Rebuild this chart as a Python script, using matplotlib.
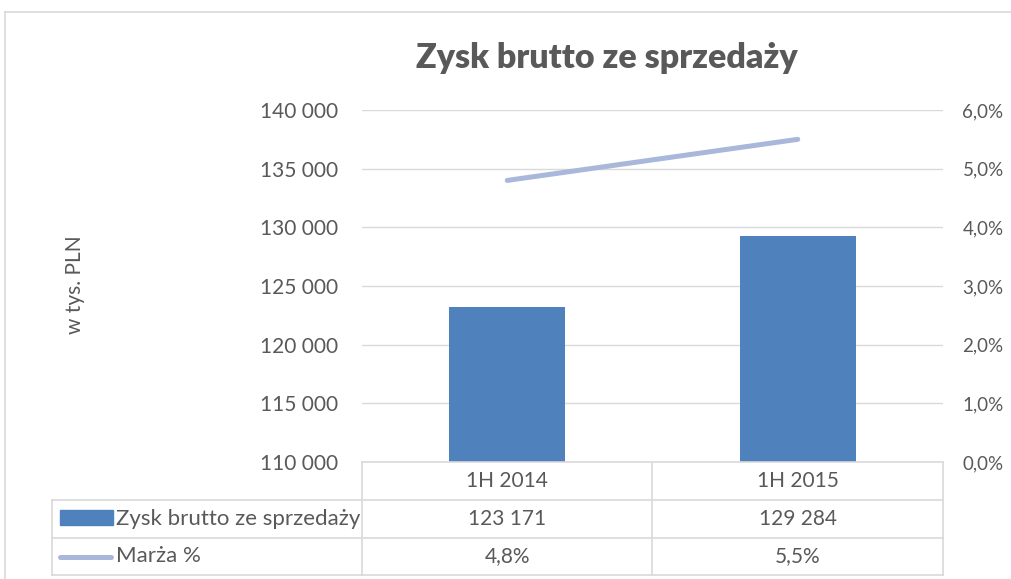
import matplotlib
matplotlib.use("Agg")
import matplotlib.pyplot as plt
from matplotlib.patches import Rectangle
from matplotlib.lines import Line2D
from matplotlib.ticker import FuncFormatter

categories = ["1H 2014", "1H 2015"]
profit = [123171, 129284]
margin = [4.8, 5.5]
title = "Zysk brutto ze sprzedaży"
series_names = ["Zysk brutto ze sprzedaży", "Marża %"]
ylabel = "w tys. PLN"

BAR_C = "#4F81BD"
LINE_C = "#A8B7DA"
TXT = "#595959"
GRID = "#D9D9D9"
FS = 15

plt.rcParams['font.family'] = ['Lato', 'DejaVu Sans']

W, H = 1012, 579
fig = plt.figure(figsize=(W / 100, H / 100), dpi=100)

def fx(x):
    return x / W

def fy(y):
    return 1 - y / H

L, R, T, B = 362, 943, 110, 462
ax = fig.add_axes([fx(L), fy(B), fx(R) - fx(L), fy(T) - fy(B)])
x = list(range(len(categories)))
ax.bar(x, profit, width=0.4, color=BAR_C, zorder=3)
ax.set_xlim(-0.5, len(categories) - 0.5)
ax.set_ylim(110000, 140000)
ax.set_yticks(range(110000, 140001, 5000))
ax.yaxis.set_major_formatter(FuncFormatter(lambda v, p: f"{int(v):,}".replace(",", " ")))
ax.grid(axis="y", color=GRID, lw=1, zorder=0)
ax.set_xticks([])
for s in ax.spines.values():
    s.set_visible(False)
ax.tick_params(axis="y", length=0, pad=17, labelsize=FS, labelcolor=TXT)

ax2 = ax.twinx()
ax2.plot(x, [m / 100 for m in margin], color=LINE_C, lw=3.6, solid_capstyle="round", zorder=4)
ax2.set_ylim(0, 0.06)
ax2.set_yticks([i / 100 for i in range(0, 7)])
ax2.yaxis.set_major_formatter(FuncFormatter(lambda v, p: f"{v*100:.1f}%".replace(".", ",")))
for s in ax2.spines.values():
    s.set_visible(False)
ax2.tick_params(axis="y", length=0, pad=14, labelsize=13.5, labelcolor=TXT)

# title and y label
fig.text(fx(607), fy(58), title, ha="center", va="center", fontsize=24.5, fontweight="heavy", color=TXT)
fig.text(fx(75), fy(285), ylabel, ha="center", va="center", rotation=90, fontsize=FS, color=TXT)

# outer chart border (cropped)
fig.add_artist(Line2D([fx(5), fx(5)], [fy(12), 0], color=GRID, lw=1.2))
fig.add_artist(Line2D([fx(5), 1], [fy(12), fy(12)], color=GRID, lw=1.2))

# data table
TL = 52
rows_y = [462, 500, 538, 575]
ncat = len(categories)
colw = (R - L) / ncat
col_x = [L + i * colw for i in range(ncat + 1)]

def hline(y, x0, x1):
    fig.add_artist(Line2D([fx(x0), fx(x1)], [fy(y), fy(y)], color=GRID, lw=1.2))

def vline(x0, y0, y1):
    fig.add_artist(Line2D([fx(x0), fx(x0)], [fy(y0), fy(y1)], color=GRID, lw=1.2))

hline(rows_y[0], L, R)
for y in rows_y[1:]:
    hline(y, TL, R)
for xc in col_x:
    vline(xc, rows_y[0], rows_y[-1])
vline(TL, rows_y[1], rows_y[-1])

def rc(i):
    return (rows_y[i] + rows_y[i + 1]) / 2

for i, c in enumerate(categories):
    cx = (col_x[i] + col_x[i + 1]) / 2
    fig.text(fx(cx), fy(rc(0)), c, ha="center", va="center", fontsize=FS, color=TXT)
    fig.text(fx(cx), fy(rc(1)), f"{profit[i]:,}".replace(",", " "), ha="center", va="center", fontsize=FS, color=TXT)
    fig.text(fx(cx), fy(rc(2)), f"{margin[i]:.1f}%".replace(".", ","), ha="center", va="center", fontsize=FS, color=TXT)

# legend keys
fig.add_artist(Rectangle((fx(60), fy(525)), fx(113) - fx(60), fy(510) - fy(525), color=BAR_C))
fig.add_artist(Line2D([fx(60), fx(111)], [fy(rc(2)), fy(rc(2))], color=LINE_C, lw=3.6, solid_capstyle="round"))
fig.text(fx(116), fy(rc(1)), series_names[0], ha="left", va="center", fontsize=FS + 1.0, color=TXT)
fig.text(fx(116), fy(rc(2)), series_names[1], ha="left", va="center", fontsize=FS + 1.0, color=TXT)

fig.savefig("out.png", dpi=100, facecolor="white")
